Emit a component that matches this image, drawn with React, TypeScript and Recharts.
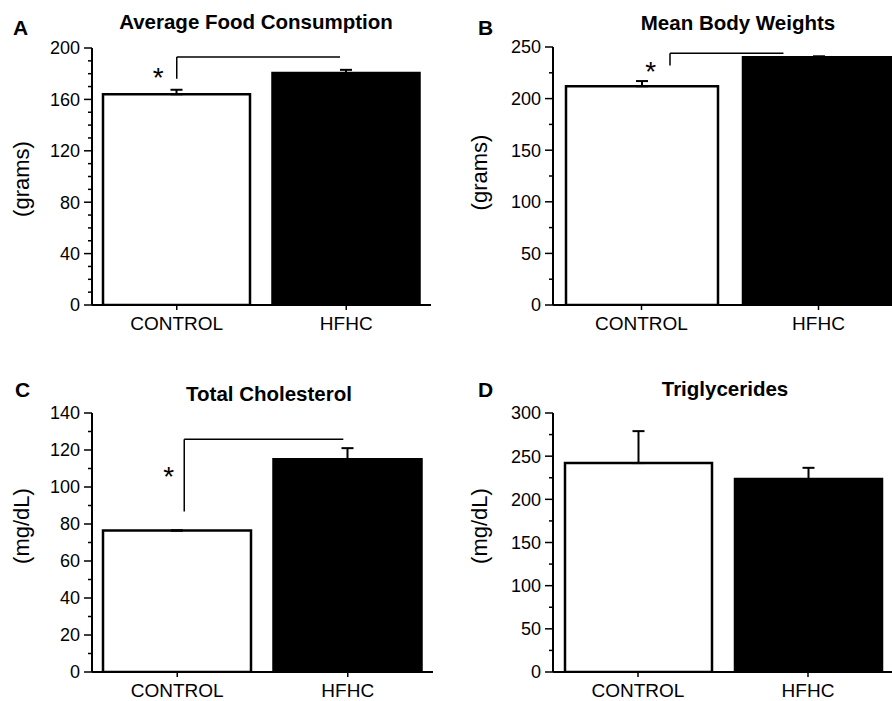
import React from 'react';
import {
  BarChart,
  Bar,
  Cell,
  XAxis,
  YAxis,
  ErrorBar,
  ReferenceLine,
  ReferenceDot,
} from 'recharts';

// groups shared by all four panels
const categories = ['CONTROL', 'HFHC'];
const barColors = ['#ffffff', '#000000'];

// A - average food consumption (grams)
const foodMeans = [164, 180.5];
const foodErrs = [3.5, 2.5];
const foodTicks = [0, 40, 80, 120, 160, 200];
const foodMinorTicks = [10, 20, 30, 50, 60, 70, 90, 100, 110, 130, 140, 150, 170, 180, 190];

// B - mean body weights (grams)
const weightMeans = [212, 240];
const weightErrs = [5, 1];
const weightTicks = [0, 50, 100, 150, 200, 250];
const weightMinorTicks = [25, 75, 125, 175, 225];

// C - total cholesterol (mg/dL)
const cholMeans = [76.5, 115];
const cholErrs = [0, 6];
const cholTicks = [0, 20, 40, 60, 80, 100, 120, 140];
const cholMinorTicks = [10, 30, 50, 70, 90, 110, 130];

// D - triglycerides (mg/dL)
const trigMeans = [242, 223.5];
const trigErrs = [37, 13];
const trigTicks = [0, 50, 100, 150, 200, 250, 300];
const trigMinorTicks = [25, 75, 125, 175, 225, 275];

// significance brackets; x is the fraction of the plot width (0 = left edge, 1 = right edge)
const foodBracket = { x1: 0.25, x2: 0.7316, low: 176, high: 193, starX: 0.1956, starY: 182 };
const weightBracket = { x1: 0.3305, x2: 0.651, low: 232, high: 244, starX: 0.276, starY: 232.3 };
const cholBracket = { x1: 0.2705, x2: 0.737, low: 86.7, high: 125.8, starX: 0.225, starY: 108.9 };

const FONT = '"Liberation Sans", Arial, sans-serif';
const Y_AXIS_W = 80;

type Bracket = { x1: number; x2: number; low: number; high: number; starX: number; starY: number };

interface PanelProps {
  left: number;
  top: number;
  width: number;
  height: number;
  margin: { top: number; right: number; left: number; bottom: number };
  xAxisHeight: number;
  means: number[];
  errs: number[];
  ticks: number[];
  minorTicks: number[];
  barSize: number;
  bracket?: Bracket;
}

const Panel: React.FC<PanelProps> = ({
  left, top, width, height, margin, xAxisHeight, means, errs, ticks, minorTicks, barSize, bracket,
}) => {
  const data = categories.map((name, i) => ({ name, value: means[i], err: [0, errs[i]] }));
  const yMax = ticks[ticks.length - 1];
  const allTicks = [...ticks, ...minorTicks].sort((a, b) => a - b);
  const axisX = margin.left + Y_AXIS_W;

  const renderYTick = (props: any) => {
    const { y, payload } = props;
    const major = ticks.includes(payload.value);
    return (
      <g>
        <line x1={axisX - (major ? 8 : 4)} x2={axisX} y1={y} y2={y} stroke="#000" strokeWidth={1.5} />
        {major && (
          <text x={axisX - 12} y={y} dy="0.355em" textAnchor="end" fontSize={18} fill="#000">
            {payload.value}
          </text>
        )}
      </g>
    );
  };

  return (
    <div style={{ position: 'absolute', left, top }}>
      <BarChart width={width} height={height} data={data} margin={margin} barSize={barSize}>
        <XAxis
          dataKey="name"
          height={xAxisHeight}
          interval={0}
          tickSize={5}
          tickMargin={7}
          axisLine={{ stroke: '#000', strokeWidth: 2 }}
          tickLine={{ stroke: '#000', strokeWidth: 1.5 }}
          tick={{ fill: '#000', fontSize: 19 }}
        />
        <XAxis
          xAxisId="top"
          dataKey="name"
          orientation="top"
          height={0}
          interval={0}
          tickSize={4}
          tick={false}
          axisLine={{ stroke: '#000', strokeWidth: 2 }}
          tickLine={{ stroke: '#000', strokeWidth: 1.5 }}
        />
        <XAxis xAxisId="num" type="number" domain={[0, 1]} allowDataOverflow hide />
        <YAxis
          width={Y_AXIS_W}
          domain={[0, yMax]}
          ticks={allTicks}
          interval={0}
          allowDataOverflow
          tickSize={8}
          tickMargin={4}
          tickLine={false}
          axisLine={{ stroke: '#000', strokeWidth: 2 }}
          tick={renderYTick}
        />
        <YAxis
          yAxisId="right"
          orientation="right"
          width={0}
          domain={[0, yMax]}
          tick={false}
          tickLine={false}
          axisLine={{ stroke: '#000', strokeWidth: 2 }}
        />
        <Bar dataKey="value" stroke="#000" strokeWidth={2.5} isAnimationActive={false}>
          {data.map((d, i) => (
            <Cell key={d.name} fill={barColors[i]} />
          ))}
          <ErrorBar dataKey="err" direction="y" width={6} stroke="#000" strokeWidth={2} isAnimationActive={false} />
        </Bar>
        {bracket && (
          <ReferenceLine
            xAxisId="num"
            ifOverflow="visible"
            segment={[{ x: bracket.x1, y: bracket.low }, { x: bracket.x1, y: bracket.high }]}
            stroke="#000"
            strokeWidth={1.5}
          />
        )}
        {bracket && (
          <ReferenceLine
            xAxisId="num"
            ifOverflow="visible"
            segment={[{ x: bracket.x1, y: bracket.high }, { x: bracket.x2, y: bracket.high }]}
            stroke="#000"
            strokeWidth={1.5}
          />
        )}
        {bracket && (
          <ReferenceDot
            xAxisId="num"
            ifOverflow="visible"
            x={bracket.starX}
            y={bracket.starY}
            r={0}
            shape={(p: any) => (
              <text x={p.cx} y={p.cy} dy="0.55em" textAnchor="middle" fontSize={28} fill="#000">
                *
              </text>
            )}
          />
        )}
      </BarChart>
    </div>
  );
};

const titleStyle = { fontSize: 20.5, fontWeight: 700, fill: '#000' } as const;
const letterStyle = { fontSize: 21, fontWeight: 700, fill: '#000' } as const;
const yLabelStyle = { fontSize: 22, fill: '#000' } as const;

const YLabel = ({ x, y, text }: { x: number; y: number; text: string }) => (
  <text x={x} y={y} transform={`rotate(-90, ${x}, ${y})`} textAnchor="middle" style={yLabelStyle}>
    {text}
  </text>
);

export default function App() {
  return (
    <div
      style={{
        position: 'absolute',
        left: 0,
        top: 0,
        width: 892,
        height: 701,
        overflow: 'hidden',
        background: '#fff',
        fontFamily: FONT,
      }}
    >
      <Panel
        left={0} top={0} width={446} height={340}
        margin={{ top: 48, right: 15, left: 12, bottom: 5 }} xAxisHeight={30}
        means={foodMeans} errs={foodErrs} ticks={foodTicks} minorTicks={foodMinorTicks}
        barSize={147} bracket={foodBracket}
      />
      <Panel
        left={446} top={0} width={475} height={340}
        margin={{ top: 47, right: 14, left: 27, bottom: 5 }} xAxisHeight={30}
        means={weightMeans} errs={weightErrs} ticks={weightTicks} minorTicks={weightMinorTicks}
        barSize={152} bracket={weightBracket}
      />
      <Panel
        left={0} top={340} width={446} height={361}
        margin={{ top: 73, right: 13, left: 12, bottom: 4 }} xAxisHeight={25}
        means={cholMeans} errs={cholErrs} ticks={cholTicks} minorTicks={cholMinorTicks}
        barSize={148} bracket={cholBracket}
      />
      <Panel
        left={446} top={340} width={460} height={361}
        margin={{ top: 73, right: 13, left: 27, bottom: 4 }} xAxisHeight={25}
        means={trigMeans} errs={trigErrs} ticks={trigTicks} minorTicks={trigMinorTicks}
        barSize={147}
      />
      <svg
        width={892}
        height={701}
        style={{ position: 'absolute', left: 0, top: 0, pointerEvents: 'none', fontFamily: FONT }}
      >
        <text x={13} y={35} style={letterStyle}>A</text>
        <text x={478} y={35} style={letterStyle}>B</text>
        <text x={15} y={397} style={letterStyle}>C</text>
        <text x={478} y={397} style={letterStyle}>D</text>
        <text x={256} y={29} textAnchor="middle" style={titleStyle}>Average Food Consumption</text>
        <text x={738} y={30} textAnchor="middle" style={titleStyle}>Mean Body Weights</text>
        <text x={269} y={401} textAnchor="middle" style={titleStyle}>Total Cholesterol</text>
        <text x={725} y={396} textAnchor="middle" style={titleStyle}>Triglycerides</text>
        <YLabel x={28.7} y={179} text="(grams)" />
        <YLabel x={486.7} y={172.5} text="(grams)" />
        <YLabel x={28.7} y={526} text="(mg/dL)" />
        <YLabel x={487} y={526} text="(mg/dL)" />
      </svg>
    </div>
  );
}
